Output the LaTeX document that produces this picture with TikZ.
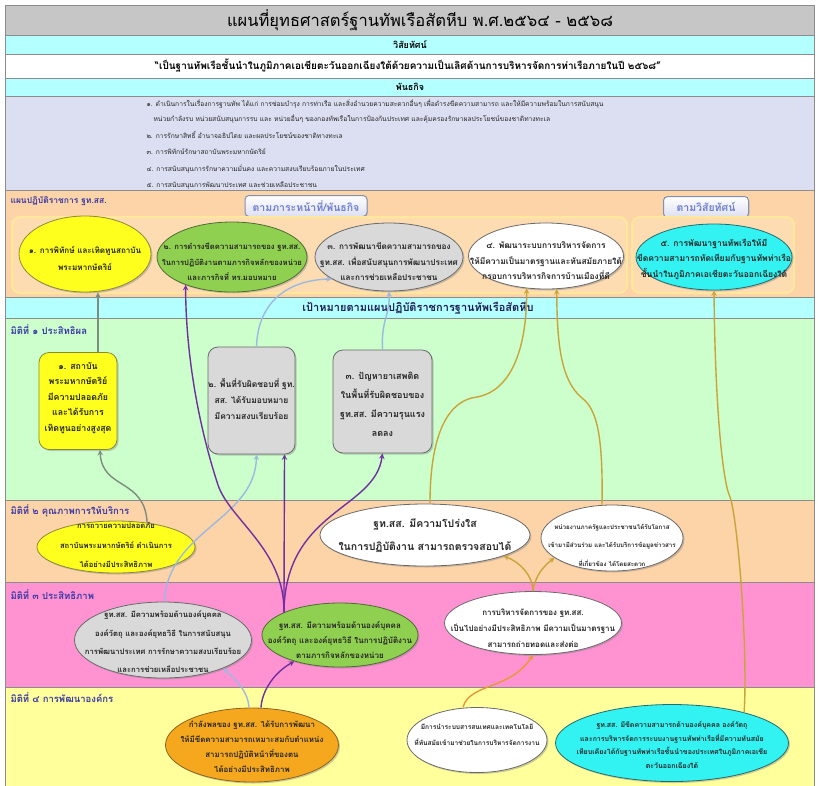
\documentclass[tikz,border=0pt]{standalone}
\usepackage{fontspec}
\setmainfont[Script=Thai]{Loma}
\usetikzlibrary{shapes.geometric,shadows}
\definecolor{framegray}{HTML}{8C8C8C}
\definecolor{titlegray}{HTML}{C6C6C6}
\definecolor{bandcyan}{HTML}{B4FFFF}
\definecolor{missionbg}{HTML}{DCDFF1}
\definecolor{planpeach}{HTML}{FDD3A8}
\definecolor{innerpeach}{HTML}{FEDCB2}
\definecolor{innerline}{HTML}{FFE89C}
\definecolor{dimgreen}{HTML}{CCFFCC}
\definecolor{dimpink}{HTML}{FF93D2}
\definecolor{dimyellow}{HTML}{FFFF9C}
\definecolor{labelblue}{HTML}{3A3AA6}
\definecolor{tagtext}{HTML}{6F7FCC}
\definecolor{tagline}{HTML}{8090B4}
\definecolor{ellyellow}{HTML}{FFFF1E}
\definecolor{ellgreen}{HTML}{90D050}
\definecolor{ellgray}{HTML}{D9D9D9}
\definecolor{ellcyan}{HTML}{33F2F2}
\definecolor{ellorange}{HTML}{F5A81E}
\definecolor{lineyellow}{HTML}{8A8A3A}
\definecolor{linegreen}{HTML}{4F6B34}
\definecolor{linegray}{HTML}{6A6A6A}
\definecolor{linecyan}{HTML}{2A6A6A}
\definecolor{lineorange}{HTML}{8A6424}
\definecolor{lnkgray}{HTML}{7E8C80}
\definecolor{lnkblue}{HTML}{9DB9DF}
\definecolor{lnkpurple}{HTML}{7030A0}
\definecolor{lnkgold}{HTML}{C9A43A}
\definecolor{lnkorange}{HTML}{E39A35}
\begin{document}
\begin{tikzpicture}[x=1pt,y=-1pt,>=stealth,
    band/.style={draw=framegray,line width=0.6pt},
    oval/.style={ellipse,draw=#1,line width=0.8pt,inner sep=0pt,
      drop shadow={shadow xshift=1.5pt,shadow yshift=-1.5pt,opacity=0.4}},
    goalbox/.style={rounded corners=10pt,draw=#1,line width=0.8pt,inner sep=0pt,
      drop shadow={shadow xshift=1.5pt,shadow yshift=-1.5pt,opacity=0.4}},
    tagbox/.style={rounded corners=4pt,draw=tagline,line width=1pt,top color=white,
      bottom color=missionbg,text=tagtext,font=\bfseries\fontsize{10.5}{12}\selectfont,
      minimum height=21pt,drop shadow={shadow xshift=1pt,shadow yshift=-1pt,opacity=0.3}},
    frame/.style={rounded corners=8pt,draw=innerline,line width=2pt,fill=innerpeach},
    txt/.style args={#1/#2}{font=\bfseries\fontsize{#1}{#2}\selectfont,align=center,text=black!85},
    dimlabel/.style={anchor=west,font=\bfseries\fontsize{9.5}{11}\selectfont,text=labelblue},
    mline/.style={anchor=base west,font=\fontsize{6.7}{8}\selectfont,text=black!85},
    link/.style={->,line width=1.4pt,draw=#1}]
\useasboundingbox (0,0) rectangle (818,785);
\fill[white] (0,0) rectangle (818,785);
% bands
\draw[band,fill=titlegray] (5,5) rectangle (814,35);
\draw[band,fill=bandcyan] (5,35) rectangle (814,54);
\draw[band,fill=white] (5,54) rectangle (814,78);
\draw[band,fill=bandcyan] (5,78) rectangle (814,96);
\draw[band,fill=missionbg] (5,96) rectangle (814,190);
\draw[band,fill=planpeach] (5,190) rectangle (814,297);
\draw[band,fill=bandcyan] (5,297) rectangle (814,318);
\draw[band,fill=dimgreen] (5,318) rectangle (814,500);
\draw[band,fill=planpeach] (5,500) rectangle (814,582);
\draw[band,fill=dimpink] (5,582) rectangle (814,687);
\draw[band,fill=dimyellow] (5,687) rectangle (814,790);

% header texts
\node[font=\fontsize{16.5}{18}\selectfont] (title) at (420,20) {แผนที่ยุทธศาสตร์ฐานทัพเรือสัตหีบ พ.ศ.๒๕๖๔ - ๒๕๖๘};
\node[font=\bfseries\fontsize{9}{11}\selectfont] (vishead) at (410,45) {วิสัยทัศน์};
\node[font=\bfseries\fontsize{10}{12}\selectfont] (vistext) at (408,66) {“เป็นฐานทัพเรือชั้นนำในภูมิภาคเอเชียตะวันออกเฉียงใต้ด้วยความเป็นเลิศด้านการบริหารจัดการท่าเรือภายในปี ๒๕๖๘”};
\node[font=\bfseries\fontsize{9}{11}\selectfont] (mishead) at (410,87) {พันธกิจ};
\node[mline] (m1) at (143,106) {๑. ดำเนินการในเรื่องการฐานทัพ ได้แก่ การซ่อมบำรุง การท่าเรือ และสิ่งอำนวยความสะดวกอื่นๆ เพื่อดำรงขีดความสามารถ และให้มีความพร้อมในการสนับสนุน};
\node[mline] (m2) at (150,121) {หน่วยกำลังรบ หน่วยสนับสนุนการรบ และ หน่วยอื่นๆ ของกองทัพเรือในการป้องกันประเทศ และคุ้มครองรักษาผลประโยชน์ของชาติทางทะเล};
\node[mline] (m3) at (143,138) {๒. การรักษาสิทธิ์ อำนาจอธิปไตย และผลประโยชน์ของชาติทางทะเล};
\node[mline] (m4) at (143,154) {๓. การพิทักษ์รักษาสถาบันพระมหากษัตริย์};
\node[mline] (m5) at (143,171) {๔. การสนับสนุนการรักษาความมั่นคง และความสงบเรียบร้อยภายในประเทศ};
\node[mline] (m6) at (143,187) {๕. การสนับสนุนการพัฒนาประเทศ และช่วยเหลือประชาชน};

% plan section
\node[dimlabel,font=\bfseries\fontsize{8.5}{10}\selectfont] (plan) at (7,201) {แผนปฏิบัติราชการ ฐท.สส.};
\node[tagbox,minimum width=122pt] (tagmis) at (306,206) {ตามภาระหน้าที่/พันธกิจ};
\node[tagbox,minimum width=85pt] (tagvis) at (706,207) {ตามวิสัยทัศน์};
\draw[frame] (12,217) rectangle (627,293);
\draw[frame] (632,217) rectangle (794,293);

\node[oval=lineyellow,fill=ellyellow,minimum width=132pt,minimum height=76pt] (e1) at (85,254) {};
\node[txt=8.1/17] (e1t) at (85,258) {๑. การพิทักษ์ และเทิดทูนสถาบัน\\พระมหากษัตริย์};
\node[oval=linegreen,fill=ellgreen,minimum width=150pt,minimum height=70pt] (e2) at (232,257) {};
\node[txt=7.7/15.5] (e2t) at (232,262) {๒. การดำรงขีดความสามารถของ ฐท.สส.\\ในการปฏิบัติงานตามภารกิจหลักของหน่วย\\และภารกิจที่ ทร.มอบหมาย};
\node[oval=linegray,fill=ellgray,minimum width=148pt,minimum height=68pt] (e3) at (389,257) {};
\node[txt=8.2/15.5] (e3t) at (389,262) {๓. การพัฒนาขีดความสามารถของ\\ฐท.สส. เพื่อสนับสนุนการพัฒนาประเทศ\\และการช่วยเหลือประชาชน};
\node[oval=linegray,fill=white,minimum width=155pt,minimum height=66pt] (e4) at (546,256) {};
\node[txt=8.4/15.5] (e4t) at (546,261) {๔. พัฒนาระบบการบริหารจัดการ\\ให้มีความเป็นมาตรฐานและทันสมัยภายใต้\\กรอบการบริหารกิจการบ้านเมืองที่ดี};
\node[oval=linecyan,fill=ellcyan,minimum width=156pt,minimum height=66pt] (e5) at (714,257) {};
\node[txt=8.6/15.5] (e5t) at (714,259) {๕. การพัฒนาฐานทัพเรือให้มี\\ขีดความสามารถทัดเทียมกับฐานทัพท่าเรือ\\ชั้นนำในภูมิภาคเอเชียตะวันออกเฉียงใต้};

% goals
\node[font=\bfseries\fontsize{11}{13}\selectfont,text=labelblue!50!black] (goal) at (418,308) {เป้าหมายตามแผนปฏิบัติราชการฐานทัพเรือสัตหีบ};
\node[dimlabel] (dim1) at (7,330) {มิติที่ ๑ ประสิทธิผล};
\node[goalbox=lineyellow,fill=ellyellow,minimum width=78pt,minimum height=97pt] (b1) at (78,401) {};
\node[txt=8.8/15.5] (b1t) at (78,398) {๑. สถาบัน\\พระมหากษัตริย์\\มีความปลอดภัย\\และได้รับการ\\เทิดทูนอย่างสูงสุด};
\node[goalbox=linegray,fill=ellgray,minimum width=87pt,minimum height=107pt] (b2) at (251.5,400.5) {};
\node[txt=8.5/16] (b2t) at (251.5,399) {๒. พื้นที่รับผิดชอบที่ ฐท.\\สส. ได้รับมอบหมาย\\มีความสงบเรียบร้อย};
\node[goalbox=linegray,fill=ellgray,minimum width=99pt,minimum height=103pt] (b3) at (382.5,401.5) {};
\node[txt=9/19] (b3t) at (382.5,404) {๓. ปัญหายาเสพติด\\ในพื้นที่รับผิดชอบของ\\ฐท.สส. มีความรุนแรง\\ลดลง};

\node[dimlabel] (dim2) at (7,511) {มิติที่ ๒ คุณภาพการให้บริการ};
\node[oval=lineyellow,fill=ellyellow,minimum width=158pt,minimum height=52pt] (q1) at (116,547) {};
\node[txt=7.6/19.5] (q1t) at (116,545) {การถวายความปลอดภัย\\สถาบันพระมหากษัตริย์ ดำเนินการ\\ได้อย่างมีประสิทธิภาพ};
\node[oval=linegray,fill=white,minimum width=210pt,minimum height=62pt] (q2) at (425,535) {};
\node[txt=10.5/23] (q2t) at (425,536) {ฐท.สส. มีความโปร่งใส\\ในการปฏิบัติงาน สามารถตรวจสอบได้};
\node[oval=linegray,fill=white,minimum width=142pt,minimum height=66pt] (q3) at (612,538) {};
\node[txt=6.2/18.5] (q3t) at (612,545) {หน่วยงานภาครัฐและประชาชนได้รับโอกาส\\เข้ามามีส่วนร่วม และได้รับบริการข้อมูลข่าวสาร\\ที่เกี่ยวข้อง ได้โดยสะดวก};

\node[dimlabel] (dim3) at (7,595) {มิติที่ ๓ ประสิทธิภาพ};
\node[oval=linegray,fill=ellgray,minimum width=177pt,minimum height=76pt] (p1) at (163,640) {};
\node[txt=7.7/18.3] (p1t) at (163,642) {ฐท.สส. มีความพร้อมด้านองค์บุคคล\\องค์วัตถุ และองค์ยุทธวิธี ในการสนับสนุน\\การพัฒนาประเทศ การรักษาความสงบเรียบร้อย\\และการช่วยเหลือประชาชน};
\node[oval=linegreen,fill=ellgreen,minimum width=156pt,minimum height=64pt] (p2) at (340,635) {};
\node[txt=8/15] (p2t) at (340,640) {ฐท.สส. มีความพร้อมด้านองค์บุคคล\\องค์วัตถุ และองค์ยุทธวิธี ในการปฏิบัติงาน\\ตามภารกิจหลักของหน่วย};
\node[oval=linegray,fill=white,minimum width=177pt,minimum height=63pt] (p3) at (533,623) {};
\node[txt=8/16] (p3t) at (533,628) {การบริหารจัดการของ ฐท.สส.\\เป็นไปอย่างมีประสิทธิภาพ มีความเป็นมาตรฐาน\\สามารถถ่ายทอดและส่งต่อ};

\node[dimlabel] (dim4) at (7,698) {มิติที่ ๔ การพัฒนาองค์กร};
\node[oval=lineorange,fill=ellorange,minimum width=173pt,minimum height=74pt] (r1) at (252,745) {};
\node[txt=7.9/15] (r1t) at (252,747) {กำลังพลของ ฐท.สส. ได้รับการพัฒนา\\ให้มีขีดความสามารถเหมาะสมกับตำแหน่ง\\สามารถปฏิบัติหน้าที่ของตน\\ได้อย่างมีประสิทธิภาพ};
\node[oval=linegray,fill=white,minimum width=140pt,minimum height=65pt] (r2) at (477,740) {};
\node[txt=6.6/16] (r2t) at (477,735) {มีการนำระบบสารสนเทศและเทคโนโลยี\\ที่ทันสมัยเข้ามาช่วยในการบริหารจัดการงาน};
\node[oval=linecyan,fill=ellcyan,minimum width=233pt,minimum height=77pt] (r3) at (672,743) {};
\node[txt=7/13.5] (r3t) at (672,745) {ฐท.สส. มีขีดความสามารถด้านองค์บุคคล องค์วัตถุ\\และการบริหารจัดการระบบงานฐานทัพท่าเรือที่มีความทันสมัย\\เทียบเคียงได้กับฐานทัพท่าเรือชั้นนำของประเทศในภูมิภาคเอเชีย\\ตะวันออกเฉียงใต้};

% links
\draw[link=lnkgray] ([xshift=20pt]b1.north) -- ([xshift=13pt]e1.south);
\draw[link=lnkgray] (q1.38) .. controls (145,478) and (102,490) .. ([xshift=22pt]b1.south);
\draw[link=lnkblue] (p1.88) .. controls (168,530) and (255,520) .. ([xshift=5pt]b2.south);
\draw[link=lnkblue] ([xshift=5pt]b2.north) .. controls (258,300) and (290,280) .. (e3.201);
\draw[link=lnkblue] (b3.north) .. controls (381,320) and (390,315) .. (e3.south);
\draw[link=lnkblue] ([xshift=-3pt]r1.north) .. controls (248,692) and (238,682) .. (p1.335);
\draw[link=lnkpurple] (p2.158) -- ([xshift=33pt]b2.south);
\draw[link=lnkpurple] (p2.158) .. controls (285,550) and (230,520) .. (218,485) .. controls (200,430) and (186,360) .. (e2.211);
\draw[link=lnkpurple] (p2.158) .. controls (285,510) and (375,510) .. (b3.south);
\draw[link=lnkpurple] ([xshift=9pt]r1.north) .. controls (262,690) and (275,672) .. (p2.210);
\draw[link=lnkgold] (p3.north) .. controls (533,576) and (520,562) .. (q2.345);
\draw[link=lnkgold] (p3.north) .. controls (535,575) and (545,565) .. (q3.199);
\draw[link=lnkgold] ([xshift=5pt]q2.north) .. controls (430,430) and (450,400) .. (477,397) .. controls (515,390) and (527,340) .. (e4.239);
\draw[link=lnkgold] ([xshift=-10pt]q3.north) .. controls (603,440) and (598,410) .. (582,398) .. controls (560,380) and (557,340) .. (e4.288);
\draw[link=lnkgold] (r3.23) .. controls (748,650) and (738,520) .. (730,497) .. controls (722,480) and (715,400) .. (e5.south);
\draw[link=lnkorange] ([xshift=-14pt]r2.north) .. controls (470,683) and (510,690) .. (p3.south);
\end{tikzpicture}
\end{document}
